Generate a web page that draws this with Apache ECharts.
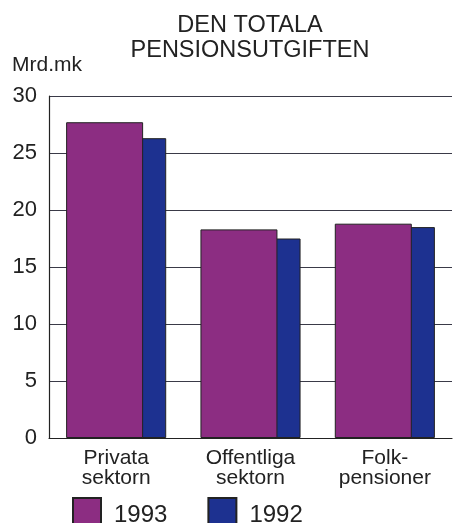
<!DOCTYPE html>
<html>
  <meta charset="UTF-8">
  <title>Den totala pensionsutgiften</title>
  <style type="text/css">
    html,body{margin:0px;height:100%;width:100%;background:#fff}
    .container{width:454px;height:523px}
  </style>
  <script type="text/javascript" src="https://cdn.jsdelivr.net/npm/echarts@6/dist/echarts.min.js"></script>
  <body>
    <div id="chart" class="container"></div>

    <script>
      var categories = ['Privata\nsektorn', 'Offentliga\nsektorn', 'Folk-\npensioner'];
      var values1993 = [27.7, 18.3, 18.8];
      var values1992 = [26.3, 17.5, 18.5];
      var yTicks = [0, 5, 10, 15, 20, 25, 30];

      var font = 'Liberation Sans, Arial, sans-serif';
      var myChart = echarts.init(document.getElementById('chart'));

      var option = {
        animation: false,
        title: [
          {
            text: 'DEN TOTALA\nPENSIONSUTGIFTEN',
            left: 245,
            textAlign: 'center',
            top: 8,
            textStyle: { fontFamily: font, fontSize: 23.5, fontWeight: 'normal', color: '#222', lineHeight: 25 }
          },
          {
            text: 'Mrd.mk',
            left: 7,
            top: 50,
            textStyle: { fontFamily: font, fontSize: 21, fontWeight: 'normal', color: '#222' }
          }
        ],
        legend: {
          data: ['1993', '1992'],
          left: 72,
          top: 497,
          padding: 0,
          itemWidth: 28,
          itemHeight: 34,
          itemGap: 40,
          icon: 'rect',
          textStyle: { fontFamily: font, fontSize: 24, color: '#222', padding: [0, 0, 0, 8] }
        },
        grid: { left: 49, right: 2, top: 96, bottom: 85 },
        xAxis: {
          type: 'category',
          data: categories,
          axisTick: { show: false },
          axisLine: { lineStyle: { color: '#222', width: 1.2 } },
          axisLabel: { fontFamily: font, fontSize: 21, color: '#222', lineHeight: 20, margin: 10 }
        },
        yAxis: {
          type: 'value',
          min: yTicks[0],
          max: yTicks[yTicks.length - 1],
          interval: 5,
          axisLine: { show: true, lineStyle: { color: '#222', width: 1.2 } },
          axisTick: { show: false },
          splitLine: { lineStyle: { color: '#3a3a48', width: 1.2 } },
          axisLabel: { fontFamily: font, fontSize: 22, color: '#222', margin: 12 }
        },
        series: [
          {
            name: '1993',
            type: 'bar',
            data: values1993,
            barWidth: 77,
            barGap: '-70%',
            z: 3,
            itemStyle: { color: '#8c2d82', borderColor: '#222', borderWidth: 1 }
          },
          {
            name: '1992',
            type: 'bar',
            data: values1992,
            barWidth: 77,
            z: 2,
            itemStyle: { color: '#1d3190', borderColor: '#222', borderWidth: 1 }
          }
        ]
      };
      myChart.setOption(option);
    </script>
  </body>
</html>
